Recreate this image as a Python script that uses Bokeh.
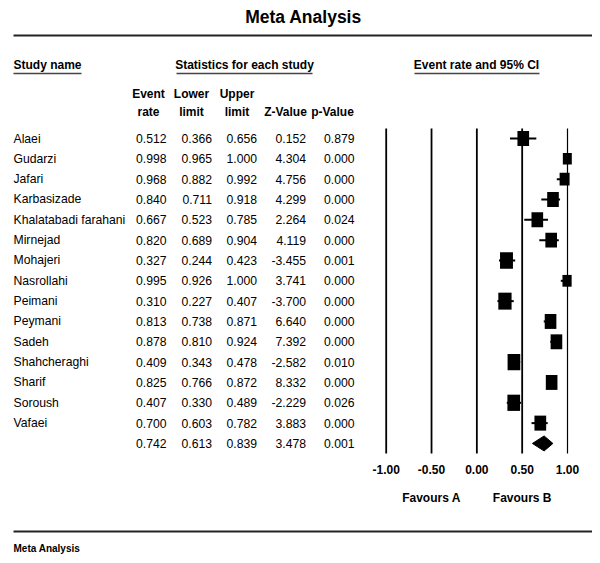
from bokeh.plotting import figure
from bokeh.models import Range1d
from bokeh.core.properties import value
from bokeh.embed import file_html
from bokeh.resources import INLINE

# ---------------- data ----------------
studies = ["Alaei", "Gudarzi", "Jafari", "Karbasizade", "Khalatabadi farahani",
           "Mirnejad", "Mohajeri", "Nasrollahi", "Peimani", "Peymani", "Sadeh",
           "Shahcheraghi", "Sharif", "Soroush", "Vafaei"]
event_rate = [0.512, 0.998, 0.968, 0.840, 0.667, 0.820, 0.327, 0.995, 0.310,
              0.813, 0.878, 0.409, 0.825, 0.407, 0.700]
lower_limit = [0.366, 0.965, 0.882, 0.711, 0.523, 0.689, 0.244, 0.926, 0.227,
               0.738, 0.810, 0.343, 0.766, 0.330, 0.603]
upper_limit = [0.656, 1.000, 0.992, 0.918, 0.785, 0.904, 0.423, 1.000, 0.407,
               0.871, 0.924, 0.478, 0.872, 0.489, 0.782]
z_value = [0.152, 4.304, 4.756, 4.299, 2.264, 4.119, -3.455, 3.741, -3.700,
           6.640, 7.392, -2.582, 8.332, -2.229, 3.883]
p_value = [0.879, 0.000, 0.000, 0.000, 0.024, 0.000, 0.001, 0.000, 0.000,
           0.000, 0.000, 0.010, 0.000, 0.026, 0.000]
# relative weights (%)
rel_weight = [6.4, 3.8, 4.7, 6.4, 6.4, 6.4, 7.9, 4.0, 8.3, 6.4, 6.4, 7.6, 6.4, 7.6, 6.5]

pooled_rate = 0.742
pooled_lower = 0.613
pooled_upper = 0.839
pooled_z = 3.478
pooled_p = 0.001

ticks = [-1.0, -0.5, 0.0, 0.5, 1.0]
tick_labels = ["-1.00", "-0.50", "0.00", "0.50", "1.00"]

col_headers_1 = ["Event", "Lower", "Upper", "", ""]
col_headers_2 = ["rate", "limit", "limit", "Z-Value", "p-Value"]

title = "Meta Analysis"
footer = "Meta Analysis"

# ---------------- layout constants ----------------
W, H = 592, 555
FONT = "Liberation Sans"
FS_BODY = "12.2px"
FS_HEAD = "12px"
ROW0 = 138.0      # page y of first row
ROWH = 20.33      # page px per row
PX_PER_UNIT = 90.65
X_AT_M1 = 385.7   # page x of -1.00

x0 = -1 - X_AT_M1 / PX_PER_UNIT
x1 = x0 + W / PX_PER_UNIT
ytop = -ROW0 / ROWH
ybot = (H - ROW0) / ROWH

p = figure(width=W, height=H, output_backend="svg", toolbar_location=None,
           x_range=Range1d(x0, x1), y_range=Range1d(ybot, ytop),
           x_axis_type=None, y_axis_type=None, min_border=0,
           outline_line_color=None, background_fill_color="white")
p.grid.visible = False
p.extra_x_ranges = {"px": Range1d(0, W)}
p.extra_y_ranges = {"py": Range1d(H, 0)}

n = len(studies)
rows = list(range(n))
all_rows = rows + [n]


def txt(x, y, t, size, bold=False, align="left", xr="px", yr="py"):
    p.text(x=x, y=y, text=t, text_font=value(FONT), text_font_size=size,
           text_font_style="bold" if bold else "normal", text_align=align,
           text_baseline="middle", text_color="black",
           x_range_name=xr, y_range_name=yr)


# title and rules
txt([303], [16], [title], "17.5px", bold=True, align="center")
p.segment(x0=[13, 13], x1=[592, 592], y0=[35, 531], y1=[35, 531],
          line_color="#222222", line_width=2, x_range_name="px", y_range_name="py")
txt([13], [548], [footer], "10px", bold=True)

# section headers with underlines
txt([13], [64], ["Study name"], FS_HEAD, bold=True)
txt([244], [64], ["Statistics for each study"], FS_HEAD, bold=True, align="center")
txt([476], [64], ["Event rate and 95% CI"], FS_HEAD, bold=True, align="center")
p.segment(x0=[13, 176, 414], x1=[81, 312, 539], y0=[73, 73, 73], y1=[73, 73, 73],
          line_color="#444444", line_width=1.5, x_range_name="px", y_range_name="py")

# column headers
hdr_x = [148, 191, 236.5, 285, 332]
txt(hdr_x, [93] * 5, col_headers_1, FS_HEAD, bold=True, align="center")
txt(hdr_x, [111] * 5, col_headers_2, FS_HEAD, bold=True, align="center")

# table body
txt([13] * n, rows, studies, FS_BODY, yr="default")
col_right = [166, 211.5, 256.5, 305.5, 354]
columns = [event_rate + [pooled_rate], lower_limit + [pooled_lower],
           upper_limit + [pooled_upper], z_value + [pooled_z], p_value + [pooled_p]]
for xr_, vals in zip(col_right, columns):
    txt([xr_] * len(vals), all_rows, [f"{v:.3f}" for v in vals], FS_BODY,
        align="right", yr="default")

# forest plot reference lines
p.segment(x0=ticks[:-1], x1=ticks[:-1], y0=[128] * 4, y1=[453] * 4,
          line_color="black", line_width=1.8, y_range_name="py")
p.segment(x0=[ticks[-1]], x1=[ticks[-1]], y0=[128], y1=[453],
          line_color="black", line_width=1.2, y_range_name="py")

# tick labels and favours labels
p.text(x=ticks, y=[468.5] * len(ticks), text=tick_labels, text_font=value(FONT),
       text_font_size=FS_HEAD, text_font_style="bold", text_align="center",
       text_baseline="middle", y_range_name="py")
p.text(x=[-0.5, 0.5], y=[497, 497], text=["Favours A", "Favours B"],
       text_font=value(FONT), text_font_size=FS_HEAD, text_font_style="bold",
       text_align="center", text_baseline="middle", y_range_name="py")

# CIs and boxes
p.segment(x0=lower_limit, x1=upper_limit, y0=rows, y1=rows,
          line_color="black", line_width=2)
box_w = [4.6 * w ** 0.5 for w in rel_weight]
box_h = [1.28 * b for b in box_w]
p.rect(x=event_rate, y=rows, width=box_w, height=box_h,
       width_units="screen", height_units="screen",
       fill_color="black", line_color=None)

# pooled diamond
half_h = 7.5 / ROWH
p.patch(x=[pooled_lower, pooled_rate, pooled_upper, pooled_rate],
        y=[n, n - half_h, n, n + half_h], fill_color="black", line_color="black")

open("out.html", "w").write(file_html(p, INLINE))
